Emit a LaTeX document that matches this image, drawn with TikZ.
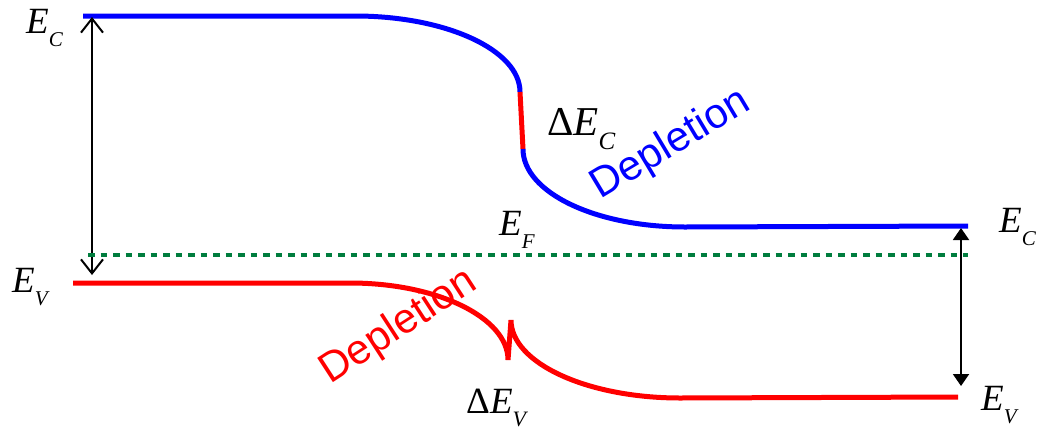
\documentclass[tikz,border=0pt]{standalone}
\usepackage{fontspec}
\setmainfont{Liberation Serif}
\newfontfamily\sansf{Liberation Sans}
\usetikzlibrary{arrows.meta}
\definecolor{cbblue}{RGB}{0,0,255}
\definecolor{cbred}{RGB}{255,0,0}
\definecolor{fgreen}{RGB}{0,125,62}
\newcommand\bandlab[2]{\fontsize{37}{37}\selectfont\textit{#1}\raisebox{-13pt}{\fontsize{21}{21}\selectfont\textit{#2}}}
\newcommand\deltalab[2]{\fontsize{37}{37}\selectfont Δ\textit{#1}\raisebox{-13pt}{\fontsize{22}{22}\selectfont\textit{#2}}}
\newcommand\bigdeltalab[2]{\fontsize{41}{41}\selectfont Δ\textit{#1}\raisebox{-14pt}{\fontsize{25}{25}\selectfont\textit{#2}}}
\begin{document}
\begin{tikzpicture}[x=1pt,y=-1pt,
  band/.style={line width=5pt},
  cband/.style={band, draw=cbblue},
  vband/.style={band, draw=cbred},
  fermi/.style={line width=4.5pt, draw=fgreen, dash pattern=on 6.5pt off 6pt},
  gaparrow/.style={line width=2pt, {Straight Barb[length=14pt,width=22pt]}-{Straight Barb[length=14pt,width=22pt]}},
  gaparrowb/.style={line width=2pt, {Triangle[length=12pt,width=16pt]}-{Triangle[length=12pt,width=16pt]}},
  lab/.style={anchor=base west, inner sep=0pt},
  deplabel/.style={anchor=base west, inner sep=0pt, font=\sansf\fontsize{42}{42}\selectfont}]
\useasboundingbox (0,0) rectangle (1041,429);
% conduction band
\draw[cband] (83,16) -- (355,16) .. controls (446,16) and (520,50) .. (520,92);
\draw[vband] (520,92) -- (523,149);
\draw[cband] (523,149) .. controls (523,192.5) and (595.6,227) .. (685,227) -- (968,226);
% valence band
\draw[vband] (73,283) -- (350,283) .. controls (437,283) and (508,317.5) .. (508,360) -- (511,320) .. controls (511,363) and (587,398) .. (680,398) -- (958,397);
% arrows
\coordinate (lt) at (92,17);
\coordinate (lb) at (92,275);
\coordinate (rt) at (961,228);
\coordinate (rb) at (961,386);
\draw[gaparrow] (lt) -- (lb);
\draw[gaparrowb] (rt) -- (rb);
% Fermi level
\coordinate (fl) at (88,255);
\coordinate (fr) at (968,255);
\draw[fermi] (fl) -- (fr);
% labels
\node[lab] (ec1) at (26,33) {\bandlab{E}{C}};
\node[lab] (ev1) at (12,292) {\bandlab{E}{V}};
\node[lab] (ef) at (499,235) {\bandlab{E}{F}};
\node[lab] (ec2) at (999,232) {\bandlab{E}{C}};
\node[lab] (ev2) at (981,410) {\bandlab{E}{V}};
\node[lab] (dec) at (547,135) {\bigdeltalab{E}{C}};
\node[lab] (dev) at (466,413) {\deltalab{E}{V}};
\node[deplabel, text=cbblue, rotate=31] (depc) at (600,200) {Depletion};
\node[deplabel, text=cbred, rotate=33] (depv) at (330,385) {Depletion};
\end{tikzpicture}
\end{document}
